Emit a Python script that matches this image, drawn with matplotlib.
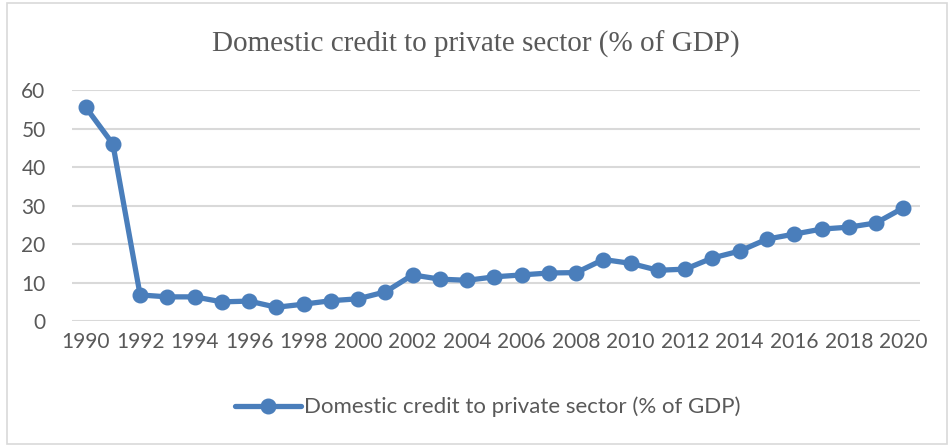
import matplotlib.pyplot as plt
from matplotlib.patches import Rectangle

years = list(range(1990, 2021))
credit = [55.6, 46.0, 6.8, 6.3, 6.3, 5.0, 5.2, 3.6, 4.4, 5.3,
          5.8, 7.6, 12.0, 10.9, 10.6, 11.5, 12.0, 12.5, 12.6, 16.0,
          15.0, 13.2, 13.5, 16.4, 18.2, 21.3, 22.6, 23.9, 24.4, 25.5,
          29.4]
series_name = "Domestic credit to private sector (% of GDP)"
yticks = [0, 10, 20, 30, 40, 50, 60]

blue = "#4a7ebb"
grey_text = "#595959"

fig = plt.figure(figsize=(9.52, 4.46), dpi=100)
ax = fig.add_axes([0.0756, 0.280, 0.8904, 0.518])

ax.plot(years, credit, color=blue, linewidth=3.8, marker="o",
        markersize=10.5, label=series_name, solid_capstyle="round")

ax.set_xlim(1989.5, 2020.6)
ax.set_ylim(0, 60)
ax.set_yticks(yticks)
ax.set_xticks(years[::2])
ax.grid(axis="y", color="#d9d9d9", linewidth=1.5)
ax.set_axisbelow(True)
for s in ax.spines.values():
    s.set_visible(False)
ax.tick_params(length=0, labelsize=15, labelcolor=grey_text, pad=8)
for lab in ax.get_xticklabels() + ax.get_yticklabels():
    lab.set_family("Lato")
ax.tick_params(axis="y", pad=19)

fig.text(0.5, 0.90, series_name, ha="center", va="center",
         family="Liberation Serif", fontsize=21, color=grey_text)

fig.legend(loc="center", bbox_to_anchor=(0.512, 0.087), frameon=False,
           prop={"family": "Lato", "size": 16}, labelcolor=grey_text,
           handlelength=3.0, handletextpad=0.1)

fig.add_artist(Rectangle((0.007, 0.004), 0.988, 0.99, transform=fig.transFigure,
                         fill=False, edgecolor="#d9d9d9", linewidth=1.2))

fig.savefig("out.png", dpi=100)
